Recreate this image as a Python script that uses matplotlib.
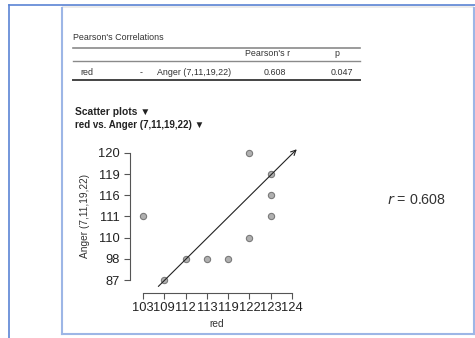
import matplotlib
matplotlib.use("Agg")
import matplotlib.pyplot as plt
from matplotlib.lines import Line2D
from matplotlib.patches import Rectangle

# ---- data ----
x_tick_labels = [103, 109, 112, 113, 119, 122, 123, 124]
y_tick_labels = [87, 98, 110, 111, 116, 119, 120]
red_vals = [103, 109, 112, 113, 119, 122, 122, 123, 123, 123]
anger_vals = [111, 87, 98, 98, 98, 120, 110, 119, 116, 111]
r_value = 0.608
p_value = 0.047
arrow_start = (0.72, -0.30)   # in category-index units
arrow_end = (7.22, 6.17)

W, H = 475, 338
plt.rcParams['font.family'] = ['Liberation Sans', 'DejaVu Sans']
fig = plt.figure(figsize=(W / 100, H / 100), dpi=100)
fig.patch.set_facecolor('white')

# overlay in pixel coordinates
ov = fig.add_axes([0, 0, 1, 1])
ov.set_xlim(0, W)
ov.set_ylim(H, 0)
ov.axis('off')

blue = '#5b84d4'
light_blue = '#9db6e6'
# frames
ov.add_line(Line2D([8.5, W], [4.5, 4.5], color=blue, lw=1.2))
ov.add_line(Line2D([8.5, 8.5], [4.5, H], color=blue, lw=1.2))
ov.add_patch(Rectangle((62, 5.2), 411.5, 3, color='#ececec', lw=0))
ov.add_line(Line2D([62, 62], [8, 334], color=light_blue, lw=1.5))
ov.add_line(Line2D([62, 473.5], [334, 334], color=light_blue, lw=1.5))
ov.add_line(Line2D([473.5, 473.5], [8, 334], color=light_blue, lw=1.5))

tc = '#333333'
tfs = 6.4
# table
ov.text(73, 38, "Pearson's Correlations", fontsize=tfs, color=tc, va='center', ha='left')
ov.add_line(Line2D([73, 360], [47.5, 47.5], color='#8a8a8a', lw=1.2))
ov.text(268, 53.8, "Pearson's r", fontsize=tfs, color=tc, va='center', ha='center')
ov.text(337, 53.8, "p", fontsize=tfs, color=tc, va='center', ha='center')
ov.add_line(Line2D([73, 360], [60.7, 60.7], color='#8a8a8a', lw=1.0))
ov.text(80, 72.3, "red", fontsize=tfs, color=tc, va='center', ha='left')
ov.text(141, 72.3, "-", fontsize=tfs, color=tc, va='center', ha='center')
ov.text(157, 72.3, "Anger (7,11,19,22)", fontsize=tfs, color=tc, va='center', ha='left')
ov.text(275, 72.3, f"{r_value:.3f}", fontsize=tfs, color=tc, va='center', ha='center')
ov.text(342, 72.3, f"{p_value:.3f}", fontsize=tfs, color=tc, va='center', ha='center')
ov.add_line(Line2D([73, 360], [80, 80], color='#444444', lw=1.4))

ov.text(75, 111.7, "Scatter plots \u25BC", fontsize=7.4, fontweight='bold', color='#222222',
        va='center', ha='left')
ov.text(75, 124.5, "red vs. Anger (7,11,19,22) \u25BC", fontsize=7.0, fontweight='bold',
        color='#222222', va='center', ha='left')

ov.text(85, 216, "Anger (7,11,19,22)", fontsize=7.3, color=tc, rotation=90,
        va='center', ha='center')
ov.text(217, 324, "red", fontsize=7.3, color=tc, va='center', ha='center')
ov.text(387, 200, "$r$ = 0.608", fontsize=10.3, color=tc, va='center', ha='left')

# scatter axes
ax = fig.add_axes([130 / W, (H - 293) / H, 170.6 / W, 149 / H])
ax.set_facecolor('none')
xi = [x_tick_labels.index(v) for v in red_vals]
yi = [y_tick_labels.index(v) for v in anger_vals]
ax.plot(xi, yi, 'o', ms=4.5, mfc='#b0b0b0', mec='#7a7a7a', mew=0.8, zorder=3)
ax.annotate('', xy=arrow_end, xytext=arrow_start,
            arrowprops=dict(arrowstyle='->', lw=0.8, color='#222222', mutation_scale=9,
                            shrinkA=0, shrinkB=0))
ax.set_xlim(-0.61, 7.4)
ax.set_ylim(-0.61, 6.42)
ax.set_xticks(range(len(x_tick_labels)))
ax.set_xticklabels([str(v) for v in x_tick_labels])
ax.set_yticks(range(len(y_tick_labels)))
ax.set_yticklabels([str(v) for v in y_tick_labels])
for s in ['top', 'right']:
    ax.spines[s].set_visible(False)
ax.spines['left'].set_bounds(0, len(y_tick_labels) - 1)
ax.spines['bottom'].set_bounds(0, len(x_tick_labels) - 1)
for s in ['left', 'bottom']:
    ax.spines[s].set_color('#555555')
    ax.spines[s].set_linewidth(0.8)
ax.tick_params(axis='both', length=4, width=0.8, color='#555555', labelsize=9.3,
               labelcolor='#222222')
ax.tick_params(axis='y', pad=3.5)
ax.tick_params(axis='x', pad=2.5)

fig.savefig('out.png', dpi=100)
